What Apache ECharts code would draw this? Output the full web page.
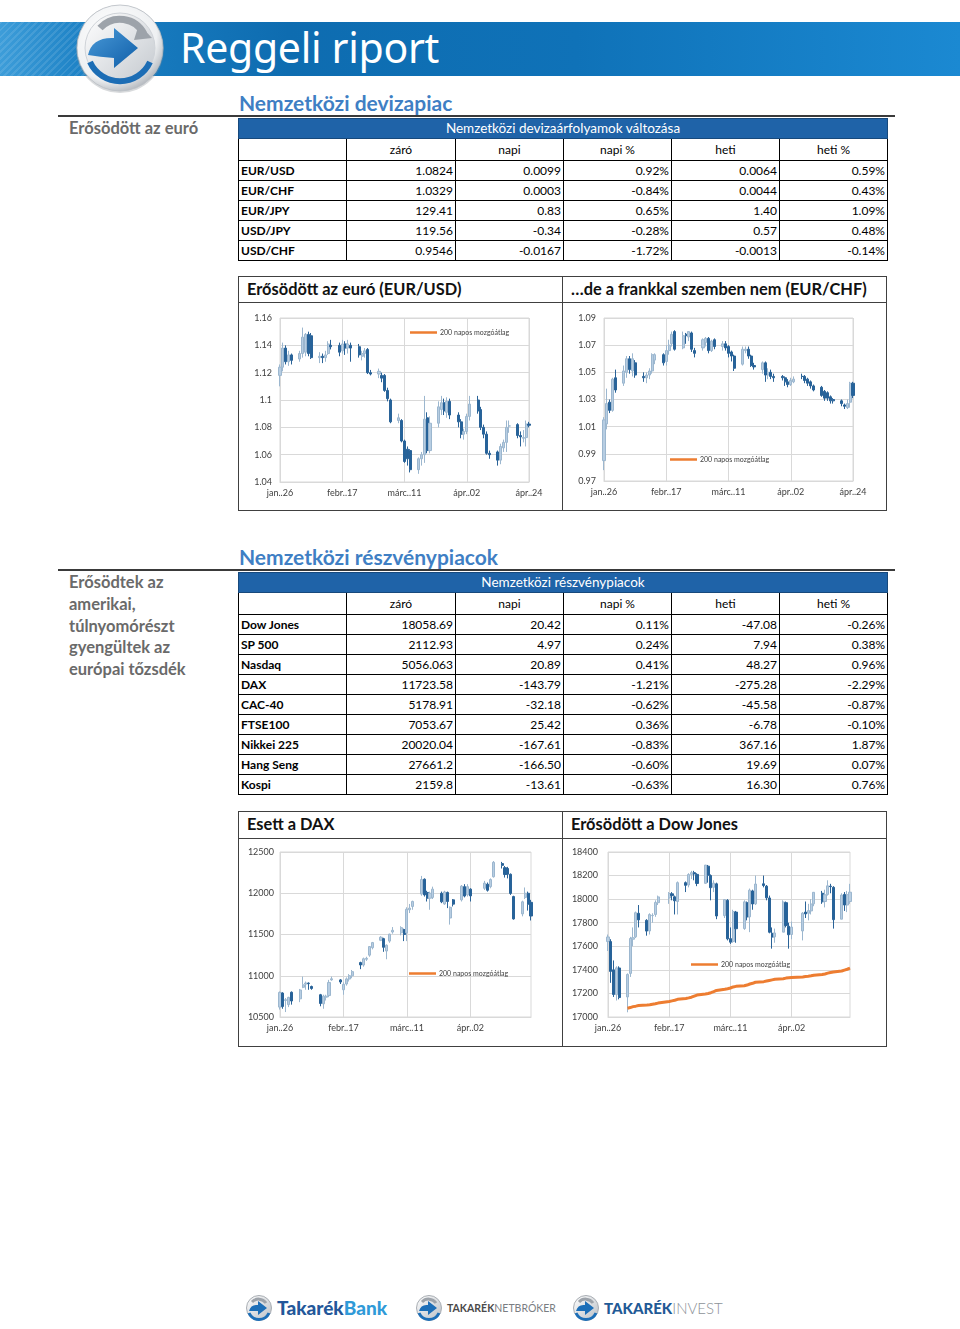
<!DOCTYPE html>
<html><head><meta charset="utf-8">
<script src="https://cdn.jsdelivr.net/npm/echarts@6/dist/echarts.min.js"></script>
<style>
html,body{margin:0;padding:0;background:#fff;}
body{width:960px;height:1329px;position:relative;overflow:hidden;font-family:Lato,'Open Sans',sans-serif;}
.a{position:absolute;}
#banner{left:0;top:22px;width:960px;height:54px;background:linear-gradient(to right,#3d9dd9 0%,#1b80c4 9%,#0e6cb0 30%,#0f72b8 60%,#1b89d2 100%);}
#stripes{left:0;top:22px;width:110px;height:54px;background:repeating-linear-gradient(135deg,rgba(255,255,255,0.10) 0 2px,rgba(255,255,255,0) 2px 5px);}
#title{left:180px;top:21px;height:54px;line-height:52px;font-family:'Noto Sans',sans-serif;font-size:41px;color:#fff;letter-spacing:-0.3px;}
.h2{font-weight:bold;font-size:21px;color:#3f7fc4;line-height:22px;}
.hl{height:2px;background:#3a3a3a;}
.side{font-weight:bold;font-size:16.5px;color:#6a6a6a;}
table{border-collapse:collapse;table-layout:fixed;font-size:12px;color:#000;}
td{border:1px solid #000;height:19px;padding:0 2px;line-height:19px;white-space:nowrap;overflow:hidden;}
td.n{text-align:right;}
td.l{font-weight:bold;text-align:left;}
td.h{text-align:center;height:21px;line-height:21px;}
tr.t td{background:#1f63a8;color:#fff;text-align:center;border:1px solid #17497c;font-size:13.5px;}
.box{border:1px solid #404040;box-sizing:border-box;}
.pt{font-weight:bold;font-size:16.4px;color:#111;line-height:26px;}
#chart{left:0;top:0;width:960px;height:1329px;z-index:5;pointer-events:none;}
</style></head>
<body>
<div id="banner" class="a"></div>
<div id="stripes" class="a"></div>
<svg class="a" style="left:70px;top:0px" width="110" height="100" viewBox="0 0 110 100">
 <defs>
  <radialGradient id="ring" cx="0.4" cy="0.35" r="0.7"><stop offset="0" stop-color="#ffffff"/><stop offset="0.75" stop-color="#eef0f2"/><stop offset="1" stop-color="#aeb3b9"/></radialGradient>
  <linearGradient id="inner" x1="0" y1="0" x2="1" y2="1"><stop offset="0" stop-color="#ffffff"/><stop offset="1" stop-color="#c3c8ce"/></linearGradient>
  <linearGradient id="blue" x1="0" y1="0" x2="1" y2="1"><stop offset="0" stop-color="#4a9ad8"/><stop offset="1" stop-color="#0f5ea8"/></linearGradient>
 </defs>
 <circle cx="50" cy="49" r="44" fill="#8e949b" opacity="0.35"/>
 <circle cx="50" cy="48" r="43" fill="url(#ring)" stroke="#b9bec4" stroke-width="0.8"/>
 <circle cx="50" cy="48" r="35" fill="url(#inner)" stroke="#cfd3d8" stroke-width="1"/>
 <path d="M30 28 A27 27 0 0 1 74 34" fill="none" stroke="#9da3aa" stroke-width="7"/>
 <path d="M69 24 L82 38 L64 40 Z" fill="#9da3aa"/>
 <path d="M18 55 Q22 37 44 38 L44 28 L68 48 L44 68 L44 58 Q30 57 18 55 Z" fill="url(#blue)"/>
 <path d="M20 62 A33 33 0 0 0 80 62" fill="none" stroke="#1c6db5" stroke-width="6"/>
</svg>
<div id="title" class="a">Reggeli riport</div>

<div class="a h2" style="left:239px;top:92px">Nemzetközi devizapiac</div>
<div class="a hl" style="left:58px;top:115px;width:837px"></div>
<div class="a side" style="left:69px;top:118px;line-height:20px">Erősödött az euró</div>
<div class="a" style="left:238px;top:118px" id="fxTable"></div>

<div class="a box" style="left:238px;top:276px;width:649px;height:235px"></div>
<div class="a" style="left:238px;top:302px;width:649px;height:1px;background:#404040"></div>
<div class="a" style="left:562px;top:276px;width:1px;height:235px;background:#404040"></div>
<div class="a pt" style="left:247px;top:276px">Erősödött az euró (EUR/USD)</div>
<div class="a pt" style="left:571px;top:276px">…de a frankkal szemben nem (EUR/CHF)</div>

<div class="a h2" style="left:239px;top:546px">Nemzetközi részvénypiacok</div>
<div class="a hl" style="left:58px;top:569px;width:837px"></div>
<div class="a side" style="left:69px;top:572px;line-height:21.75px">Erősödtek az<br>amerikai,<br>túlnyomórészt<br>gyengültek az<br>európai tőzsdék</div>
<div class="a" style="left:238px;top:572px" id="eqTable"></div>

<div class="a box" style="left:238px;top:811px;width:649px;height:236px"></div>
<div class="a" style="left:238px;top:838px;width:649px;height:1px;background:#404040"></div>
<div class="a" style="left:562px;top:811px;width:1px;height:236px;background:#404040"></div>
<div class="a pt" style="left:247px;top:811px">Esett a DAX</div>
<div class="a pt" style="left:571px;top:811px">Erősödött a Dow Jones</div>

<svg class="a" style="left:0;top:1290px" width="960" height="39" viewBox="0 1290 960 39">
 <defs>
  <linearGradient id="fi" x1="0" y1="0" x2="1" y2="1"><stop offset="0" stop-color="#ffffff"/><stop offset="1" stop-color="#b9bec4"/></linearGradient>
  <g id="ico">
   <circle cx="0" cy="0" r="12.5" fill="url(#fi)" stroke="#a9aeb4" stroke-width="1"/>
   <path d="M-7 -6 A9 9 0 0 1 7 -5" fill="none" stroke="#9da3aa" stroke-width="3"/>
   <path d="M-10 3 Q-8 -4 -1 -3 L-1 -7 L8 0 L-1 7 L-1 3 Q-6 3 -10 3 Z" fill="#1d6fb8"/>
   <path d="M-10 5 A11 11 0 0 0 10 5" fill="none" stroke="#1d6fb8" stroke-width="3"/>
  </g>
 </defs>
 <use href="#ico" x="259" y="1308"/>
 <text x="277" y="1315" font-family="Lato" font-weight="900" font-size="19" fill="#23579a">Takarék<tspan fill="#2f9ad8">Bank</tspan></text>
 <use href="#ico" x="429" y="1308"/>
 <text x="447" y="1312" font-family="Lato" font-size="10.5" fill="#4a4a4a"><tspan font-weight="bold">TAKARÉK</tspan><tspan fill="#7a7d82">NETBRÓKER</tspan></text>
 <use href="#ico" x="586" y="1308"/>
 <text x="604" y="1314" font-family="Lato" font-size="15" fill="#1f5a96"><tspan font-weight="900">TAKARÉK</tspan><tspan fill="#8d9298" font-weight="300">INVEST</tspan></text>
</svg>

<div id="chart" class="a"></div>
<script>
// ---------- table data ----------
const tableCols = ['záró','napi','napi %','heti','heti %'];
const fxTitle = 'Nemzetközi devizaárfolyamok változása';
const fxNames = ['EUR/USD','EUR/CHF','EUR/JPY','USD/JPY','USD/CHF'];
const fxClose = ['1.0824','1.0329','129.41','119.56','0.9546'];
const fxDaily = ['0.0099','0.0003','0.83','-0.34','-0.0167'];
const fxDailyPct = ['0.92%','-0.84%','0.65%','-0.28%','-1.72%'];
const fxWeekly = ['0.0064','0.0044','1.40','0.57','-0.0013'];
const fxWeeklyPct = ['0.59%','0.43%','1.09%','0.48%','-0.14%'];

const eqTitle = 'Nemzetközi részvénypiacok';
const eqNames = ['Dow Jones','SP 500','Nasdaq','DAX','CAC-40','FTSE100','Nikkei 225','Hang Seng','Kospi'];
const eqClose = ['18058.69','2112.93','5056.063','11723.58','5178.91','7053.67','20020.04','27661.2','2159.8'];
const eqDaily = ['20.42','4.97','20.89','-143.79','-32.18','25.42','-167.61','-166.50','-13.61'];
const eqDailyPct = ['0.11%','0.24%','0.41%','-1.21%','-0.62%','0.36%','-0.83%','-0.60%','-0.63%'];
const eqWeekly = ['-47.08','7.94','48.27','-275.28','-45.58','-6.78','367.16','19.69','16.30'];
const eqWeeklyPct = ['-0.26%','0.38%','0.96%','-2.29%','-0.87%','-0.10%','1.87%','0.07%','0.76%'];

// ---------- chart data: [open, close, low, high] per trading day (Mon-Fri), null = closed ----------
const tickLabels = ['jan..26','febr..17','márc..11','ápr..02','ápr..24'];
const legendName = '200 napos mozgóátlag';

const eurusd = [
 [1.118,1.124,1.110,1.126],[1.124,1.138,1.121,1.142],[1.138,1.128,1.126,1.140],[1.128,1.133,1.125,1.136],[1.133,1.129,1.126,1.134],
 [1.130,1.134,1.128,1.136],[1.134,1.146,1.131,1.153],[1.135,1.148,1.132,1.149],[1.148,1.134,1.132,1.150],[1.147,1.131,1.130,1.149],
 [1.131,1.132,1.127,1.135],[1.132,1.131,1.127,1.134],[1.131,1.133,1.128,1.136],[1.134,1.141,1.133,1.143],[1.140,1.139,1.137,1.144],
 [1.140,1.135,1.132,1.142],[1.136,1.141,1.134,1.144],[1.141,1.138,1.133,1.143],[1.138,1.141,1.134,1.144],[1.140,1.138,1.128,1.142],
 [1.139,1.133,1.131,1.141],[1.132,1.134,1.129,1.136],[1.134,1.136,1.131,1.138],[1.137,1.120,1.119,1.138],[1.120,1.119,1.118,1.122],
 [1.119,1.121,1.116,1.123],[1.118,1.116,1.113,1.120],[1.118,1.107,1.106,1.119],[1.107,1.101,1.099,1.109],[1.100,1.084,1.083,1.101],
 [1.085,1.087,1.083,1.090],[1.085,1.070,1.069,1.086],[1.070,1.055,1.054,1.071],[1.064,1.057,1.052,1.066],[1.063,1.049,1.047,1.064],
 [1.049,1.057,1.046,1.058],[1.057,1.060,1.052,1.062],[1.060,1.086,1.054,1.103],[1.087,1.063,1.061,1.091],[1.063,1.083,1.061,1.088],
 [1.083,1.095,1.080,1.099],[1.093,1.098,1.089,1.103],[1.098,1.092,1.089,1.101],[1.091,1.099,1.087,1.102],[1.099,1.089,1.086,1.101],
 [1.089,1.084,1.080,1.091],[1.084,1.075,1.072,1.086],[1.075,1.077,1.071,1.079],[1.077,1.088,1.075,1.090],[1.088,1.097,1.085,1.103],
 [1.100,1.092,1.090,1.103],[1.093,1.080,1.078,1.095],[1.080,1.075,1.072,1.082],[1.075,1.061,1.060,1.077],[1.061,1.060,1.057,1.063],
 [1.062,1.056,1.052,1.063],[1.056,1.066,1.053,1.068],[1.065,1.069,1.062,1.071],[1.069,1.080,1.062,1.085],[1.081,1.081,1.076,1.085],
 [1.082,1.074,1.072,1.083],[1.074,1.073,1.066,1.077],[1.072,1.0725,1.069,1.078],[1.0725,1.0824,1.066,1.085],[1.0824,1.0815,1.080,1.084]
];
const eurchf = [
 [0.985,1.015,0.978,1.017],[1.012,1.027,1.008,1.038],[1.028,1.022,1.020,1.030],[1.022,1.045,1.021,1.046],[1.046,1.037,1.035,1.052],
 [1.042,1.051,1.040,1.055],[1.050,1.060,1.046,1.062],[1.060,1.052,1.049,1.062],[1.051,1.060,1.047,1.064],[1.057,1.048,1.046,1.059],
 [1.047,1.046,1.043,1.050],[1.046,1.048,1.042,1.050],[1.048,1.051,1.045,1.053],[1.051,1.063,1.049,1.064],[1.059,1.063,1.056,1.064],
 [1.063,1.057,1.055,1.064],[1.058,1.066,1.055,1.070],[1.066,1.070,1.063,1.074],[1.071,1.078,1.069,1.080],[1.080,1.067,1.066,1.081],
 [1.068,1.077,1.067,1.080],[1.078,1.077,1.071,1.079],[1.076,1.080,1.073,1.080],[1.079,1.067,1.065,1.080],[1.066,1.064,1.061,1.068],
 [1.068,1.074,1.066,1.075],[1.072,1.075,1.069,1.076],[1.075,1.066,1.064,1.076],[1.066,1.073,1.065,1.074],[1.074,1.069,1.067,1.075],
 [1.069,1.071,1.066,1.073],[1.071,1.068,1.066,1.073],[1.069,1.064,1.061,1.070],[1.065,1.062,1.058,1.066],[1.062,1.053,1.051,1.063],
 [1.056,1.067,1.055,1.069],[1.066,1.067,1.064,1.069],[1.067,1.062,1.060,1.069],[1.062,1.055,1.054,1.063],[1.055,1.054,1.052,1.057],
 [1.052,1.057,1.049,1.058],[1.057,1.048,1.043,1.058],[1.048,1.050,1.045,1.053],[1.050,1.047,1.045,1.052],[1.047,1.046,1.043,1.049],
 [1.047,1.046,1.044,1.048],[1.046,1.043,1.040,1.047],[1.043,1.041,1.039,1.045],[1.041,1.044,1.040,1.046],[1.043,1.045,1.042,1.047],
 [1.047,1.047,1.045,1.049],[1.047,1.044,1.042,1.048],[1.045,1.042,1.040,1.046],[1.043,1.040,1.038,1.044],[1.040,1.037,1.036,1.041],
 [1.039,1.033,1.032,1.040],[1.036,1.031,1.029,1.037],[1.035,1.031,1.029,1.036],[1.032,1.029,1.027,1.033],[1.030,1.029,1.027,1.031],
 [1.029,1.027,1.025,1.030],[1.026,1.025,1.023,1.027],[1.024,1.027,1.023,1.030],[1.028,1.042,1.024,1.043],[1.042,1.033,1.031,1.043]
];
const dax = [
 [10620,10798,10590,10810],[10790,10628,10600,10800],[10700,10710,10560,10730],[10650,10738,10620,10745],[10800,10694,10650,10810],
 [10720,10828,10680,10840],[10860,10890,10850,10990],[10900,10911,10830,10930],[10910,10905,10830,10920],[10870,10846,10830,10880],
 [10770,10664,10630,10780],[10660,10753,10600,10770],[10740,10752,10700,10770],[10760,10919,10740,10950],[10950,10963,10940,10990],
 [10950,10924,10900,10960],[10830,10896,10770,10920],[10900,10962,10880,10980],[10960,11001,10930,11020],[11000,11050,10970,11070],
 [11160,11131,11080,11170],[11130,11206,11110,11220],[11200,11211,11180,11230],[11250,11354,11230,11360],[11340,11402,11320,11410],
 [11430,11467,11420,11480],[11450,11345,11290,11460],[11300,11370,11200,11380],[11420,11504,11400,11510],[11530,11551,11510,11590],
 [11520,11583,11490,11600],[11560,11500,11420,11570],[11520,11806,11420,11830],[11800,11820,11760,11870],[11840,11901,11800,11910],
 [11990,12167,11970,12210],[12170,11980,11960,12180],[12010,11940,11900,12030],[11940,12000,11800,12020],[11950,12050,11930,12080],
 [12000,11896,11880,12020],[11870,12016,11860,12030],[12010,11900,11820,12020],[11700,11830,11620,11840],[11920,11868,11840,11930],
 [11920,12086,11900,12100],[12080,11966,11950,12110],[11980,12080,11960,12110],[12050,11968,11900,12060],null,
 null,[12060,12123,12040,12150],[12110,12036,12020,12130],[12080,12166,12060,12180],[12200,12375,12190,12390],
 [12360,12338,12300,12380],[12310,12227,12190,12330],[12300,12231,12180,12320],[12230,11998,11980,12240],[11960,11689,11680,11970],
 [11750,11896,11720,11910],[11950,12000,11930,12070],[12000,11867,11790,12020],[11890,11724,11670,11920]
];
const dow = [
 [17640,17679,17560,17700],[17640,17387,17290,17660],[17400,17191,17170,17480],[17190,17417,17140,17430],[17416,17165,17150,17430],
 [17170,17361,17040,17370],[17370,17666,17340,17680],[17660,17673,17600,17760],[17680,17885,17670,17895],[17880,17824,17760,17950],
 [17820,17729,17690,17830],[17730,17869,17700,17880],[17860,17862,17800,17880],[17870,17972,17850,17990],[17970,18019,17950,18030],
 null,[18010,18048,17960,18060],[18045,18030,17990,18060],[18020,17986,17870,18030],[17980,18140,17870,18150],
 [18140,18117,18060,18150],[18120,18209,18100,18220],[18210,18225,18170,18240],[18225,18214,18160,18240],[18210,18133,18110,18220],
 [18134,18289,18130,18290],[18280,18203,18140,18290],[18200,18097,17990,18210],[18100,18136,18060,18160],[18130,17857,17830,18140],
 [17860,17996,17840,18000],[17990,17663,17650,18000],[17665,17635,17620,17760],[17640,17895,17630,17910],[17890,17749,17630,17900],
 [17750,17977,17740,17990],[17970,17849,17820,17980],[17850,18076,17720,18090],[18070,17959,17910,18080],[17960,18128,17950,18200],
 [18130,18116,18100,18200],[18110,18011,17990,18120],[18010,17719,17710,18030],[17710,17678,17580,17760],[17680,17713,17630,17750],
 [17720,17976,17720,17990],[17970,17776,17760,17980],[17770,17698,17580,17800],[17700,17763,17660,17810],null,
 [17730,17881,17650,17890],[17890,17875,17840,17980],[17880,17903,17820,17960],[17900,17959,17870,18000],[17960,18058,17940,18060],
 [18050,17977,17960,18070],[17980,18037,17930,18080],[18040,18113,18030,18160],[18110,18106,18050,18130],[18100,17826,17750,18110],
 [17830,18035,17830,18050],[18040,17950,17900,18060],[17950,18038,17890,18070],[17980,18059,17960,18130]
];
// 200-day moving average of the Dow, per trading day (null before the line starts / on holidays)
const dowMA = [
 null,null,null,null,null,
 17075,17080,17088,17092,17097,
 17102,17104,17108,17112,17118,
 null,17132,17137,17142,17150,
 17157,17162,17168,17177,17186,
 17195,17200,17206,17215,17225,
 17235,17240,17246,17255,17260,
 17265,17271,17280,17286,17295,
 17300,17305,17310,17315,17320,
 17325,17330,17333,17336,null,
 17340,17343,17346,17350,17355,
 17360,17365,17372,17378,17382,
 17390,17398,17405,17414
];

// ---------- tables ----------
function buildTable(el, title, names, cols){
  const w=[108,109,108,108,108,108];
  let h='<table style="width:649px"><colgroup>'+w.map(x=>'<col style="width:'+x+'px">').join('')+'</colgroup>';
  h+='<tr class="t"><td colspan="6" style="height:19px">'+title+'</td></tr>';
  h+='<tr><td class="h"></td>'+tableCols.map(c=>'<td class="h">'+c+'</td>').join('')+'</tr>';
  names.forEach((n,i)=>{ h+='<tr><td class="l">'+n+'</td>'+cols.map(c=>'<td class="n">'+c[i]+'</td>').join('')+'</tr>'; });
  h+='</table>';
  document.getElementById(el).innerHTML=h;
}
buildTable('fxTable', fxTitle, fxNames, [fxClose,fxDaily,fxDailyPct,fxWeekly,fxWeeklyPct]);
buildTable('eqTable', eqTitle, eqNames, [eqClose,eqDaily,eqDailyPct,eqWeekly,eqWeeklyPct]);

// ---------- charts ----------
function calIndex(k){ return Math.floor(k/5)*7 + k%5; }
function toCalendar(rows, n){
  const out = new Array(n).fill('-');
  rows.forEach((r,k)=>{ const i=calIndex(k); if(i<n && r!==null) out[i]=r; });
  return out;
}
function cats(n){ const c=[]; for(let i=0;i<n;i++) c.push(i%22===0 ? tickLabels[i/22] : 'd'+i); return c; }

const grids = [
  {left:280, top:318, width:249, height:164},
  {left:604, top:318, width:249, height:163},
  {left:280, top:852, width:251, height:165},
  {left:608, top:852, width:242, height:165}
];
const nDays = [89,89,88,88];
const yCfg = [
  {min:1.04, max:1.16, interval:0.02, margin:8},
  {min:0.97, max:1.09, interval:0.02, margin:8},
  {min:10500, max:12500, interval:500, margin:6},
  {min:17000, max:18400, interval:200, margin:10}
];
const candleSets = [eurusd, eurchf, dax, dow];
const legendPos = [{left:410, top:329},{left:670, top:456},{left:409, top:970},{left:691, top:961}];
const gridColor = '#d9d9d9';
const labelColor = '#404040';

const option = {
  animation:false,
  grid: grids.map(g=>Object.assign({show:true, borderColor:gridColor, borderWidth:1, containLabel:false}, g)),
  xAxis: nDays.map((n,i)=>({
    type:'category', gridIndex:i, data:cats(n), boundaryGap:false,
    axisLine:{show:true, lineStyle:{color:gridColor}}, axisTick:{show:false},
    axisLabel:{interval:(idx)=>idx%22===0, fontSize:9, color:labelColor, margin:7, fontFamily:'Lato'},
    splitLine:{show:true, interval:(idx)=>idx%22===0, lineStyle:{color:gridColor, width:1}}
  })),
  yAxis: yCfg.map((y,i)=>({
    type:'value', gridIndex:i, min:y.min, max:y.max, interval:y.interval,
    axisLine:{show:false}, axisTick:{show:false},
    axisLabel:{fontSize:9, color:labelColor, margin:y.margin, fontFamily:'Lato',
      formatter:(v)=>String(parseFloat(v.toFixed(2)))},
    splitLine:{show:true, lineStyle:{color:gridColor, width:1}}
  })),
  legend: legendPos.map(p=>({
    data:[legendName], left:p.left, top:p.top, padding:0, itemGap:0, itemWidth:27, itemHeight:2.5,
    icon:'rect', selectedMode:false, textStyle:{fontSize:7, color:labelColor, padding:[0,0,0,-2], fontFamily:'Lato'}
  })),
  series: []
};
candleSets.forEach((set,i)=>{
  option.series.push({
    type:'candlestick', name:'ohlc'+i, xAxisIndex:i, yAxisIndex:i,
    data: toCalendar(set, nDays[i]), barWidth:2.6,
    itemStyle:{color:'#b7cde2', color0:'#25639b', borderColor:'#9cb7cf', borderColor0:'#2a6398', borderWidth:1}
  });
  option.series.push({
    type:'line', name:legendName, xAxisIndex:i, yAxisIndex:i,
    data: i===3 ? toCalendar(dowMA, nDays[i]) : [],
    connectNulls:true, showSymbol:false, symbol:'none',
    itemStyle:{color:'#ed7d31'}, lineStyle:{color:'#ed7d31', width:3}, z:3
  });
});
const chart = echarts.init(document.getElementById('chart'), null, {renderer:'canvas'});
chart.setOption(option);
</script>
</body></html>
